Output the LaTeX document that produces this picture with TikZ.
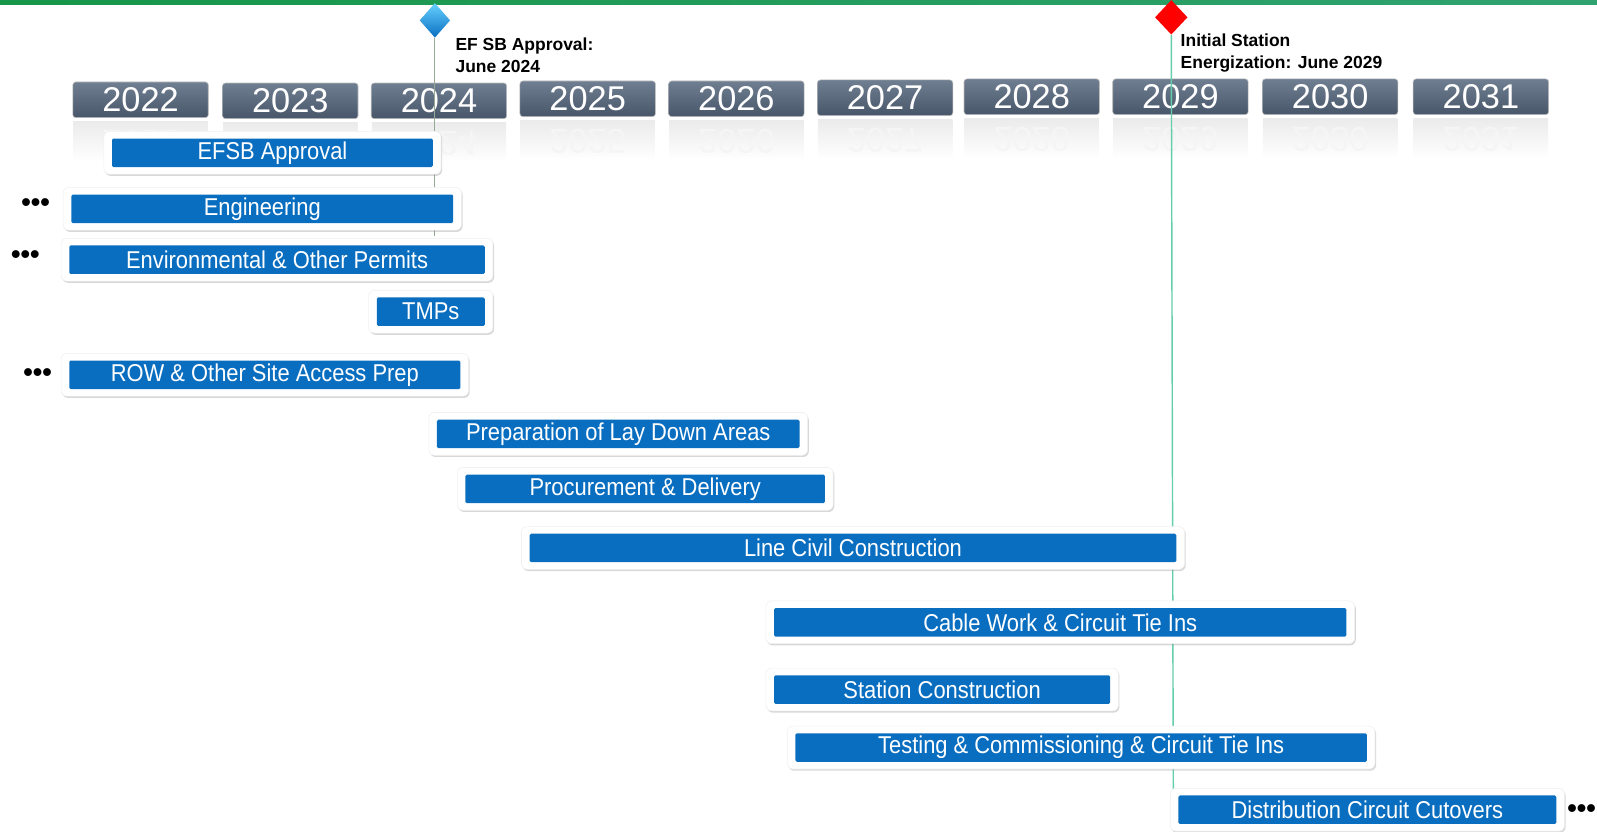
\documentclass[tikz,border=0pt]{standalone}
\usepackage{fontspec}
\setmainfont{Liberation Sans}
\newfontfamily\barfont[FakeStretch=0.9]{Liberation Sans}
\usetikzlibrary{shapes.geometric,shadows}
\definecolor{barblue}{RGB}{10,110,192}
\definecolor{slatetop}{RGB}{112,126,145}
\definecolor{slatebot}{RGB}{72,86,106}
\definecolor{topgreenl}{RGB}{22,150,72}
\definecolor{topgreenr}{RGB}{48,162,112}
\definecolor{efsbline}{RGB}{150,170,150}
\definecolor{energline}{RGB}{100,205,170}
\def\pxu{0.25mm}
\def\taskbar(#1)(#2:#3:#4)#5{%
  \node[taskback, minimum width={(#3-#2+16)*\pxu}] (#1back) at ({(#2+#3)/2},#4) {};
  \node[task, minimum width={(#3-#2)*\pxu}] (#1) at ({(#2+#3)/2},#4) {#5};}
\tikzset{
  yearbox/.style={rectangle, rounded corners=2pt, draw=black!25, top color=slatetop, bottom color=slatebot,
    text=white, minimum width=133*\pxu, minimum height=35*\pxu, inner sep=0pt, font=\fontsize{24}{26}\selectfont},
  yearghost/.style={text=black!4, inner sep=0pt, font=\fontsize{24}{26}\selectfont},
  taskback/.style={rectangle, fill=white, draw=black!6, rounded corners=4pt, minimum height=42*\pxu,
    drop shadow={shadow xshift=0.8pt, shadow yshift=-1.2pt, opacity=0.3}},
  task/.style={rectangle, fill=barblue, text=white, rounded corners=1pt, minimum height=28*\pxu,
    inner sep=0pt, font=\barfont\fontsize{17}{19}\selectfont},
  milestone/.style={diamond, minimum width=30*\pxu, minimum height=34*\pxu, inner sep=0pt},
  mtext/.style={anchor=north west, align=left, inner sep=0pt, font=\bfseries\fontsize{12.2}{15.5}\selectfont},
  more/.style={inner sep=0pt, font=\bfseries\fontsize{19}{19}\selectfont}
}

\begin{document}
\begin{tikzpicture}[x=0.25mm, y=-0.25mm]
		%%%%% START %%%%%
		\useasboundingbox (0,0) rectangle (1568,816);
		\fill[white] (0,0) rectangle (1568,816);
		\shade[left color=topgreenl, right color=topgreenr] (0,0) rectangle (1568,4);
		
		% years and their reflections
		\foreach \yr/\xc/\yc in {2022/138/98, 2023/285/99, 2024/431/99, 2025/577/97, 2026/723/97,
		  2027/869/96, 2028/1013/95, 2029/1159/95, 2030/1306/95, 2031/1454/95}{
		  \shade[top color=black!8, bottom color=white] (\xc-66,\yc+21) rectangle (\xc+66,\yc+60);
		  \node[yearghost] (g\yr) at (\xc,\yc+42) {\scalebox{1}[-1]{\yr}};
		  \node[yearbox] (y\yr) at (\xc,\yc) {\yr};
		}
		
		% milestones
		\node[milestone, top color=blue!30!cyan!60, bottom color=barblue] (efsb) at (427,20) {};
		\coordinate (efsbend) at (427,232);
		\draw[efsbline, line width=0.6pt] (efsb.south) -- (efsbend);
		\node[mtext] (efsbtext) at (447,37) {EF SB Approval:\\June 2024};
		
		\node[milestone, fill=red, minimum width=32*\pxu] (energ) at (1150,17) {};
		\coordinate (energend) at (1152,780);
		\draw[energline, line width=1pt] (energ.south) -- (energend);
		\node[mtext] (energtext) at (1159,33) {Initial Station\\Energization: June 2029};
		
		% tasks
		\taskbar(efsbtask)(110:425:150){EFSB Approval}
		\taskbar(engineering)(70:445:205){Engineering}
		\taskbar(permits)(68:476:255){Environmental \& Other Permits}
		\taskbar(tmps)(370:476:306){TMPs}
		\taskbar(row)(68:452:368){ROW \& Other Site Access Prep}
		\taskbar(laydown)(429:785:426){Preparation of Lay Down Areas}
		\taskbar(procure)(457:810:480){Procurement \& Delivery}
		\taskbar(civil)(520:1155:538){Line Civil Construction}
		\taskbar(cable)(760:1322:611){Cable Work \& Circuit Tie Ins}
		\taskbar(station)(760:1090:677){Station Construction}
		\taskbar(testing)(781:1342:734){Testing \& Commissioning \& Circuit Tie Ins}
		\taskbar(cutover)(1157:1528:795){Distribution Circuit Cutovers}
		
		% work going on before and after
		\node[more] (engmore) at (35,201) {•••};
		\node[more] (permore) at (25,252) {•••};
		\node[more] (rowmore) at (37,368) {•••};
		\node[more] (cutmore) at (1553,796) {•••};
		%%%%% END %%%%%
	\end{tikzpicture}
\end{document}
